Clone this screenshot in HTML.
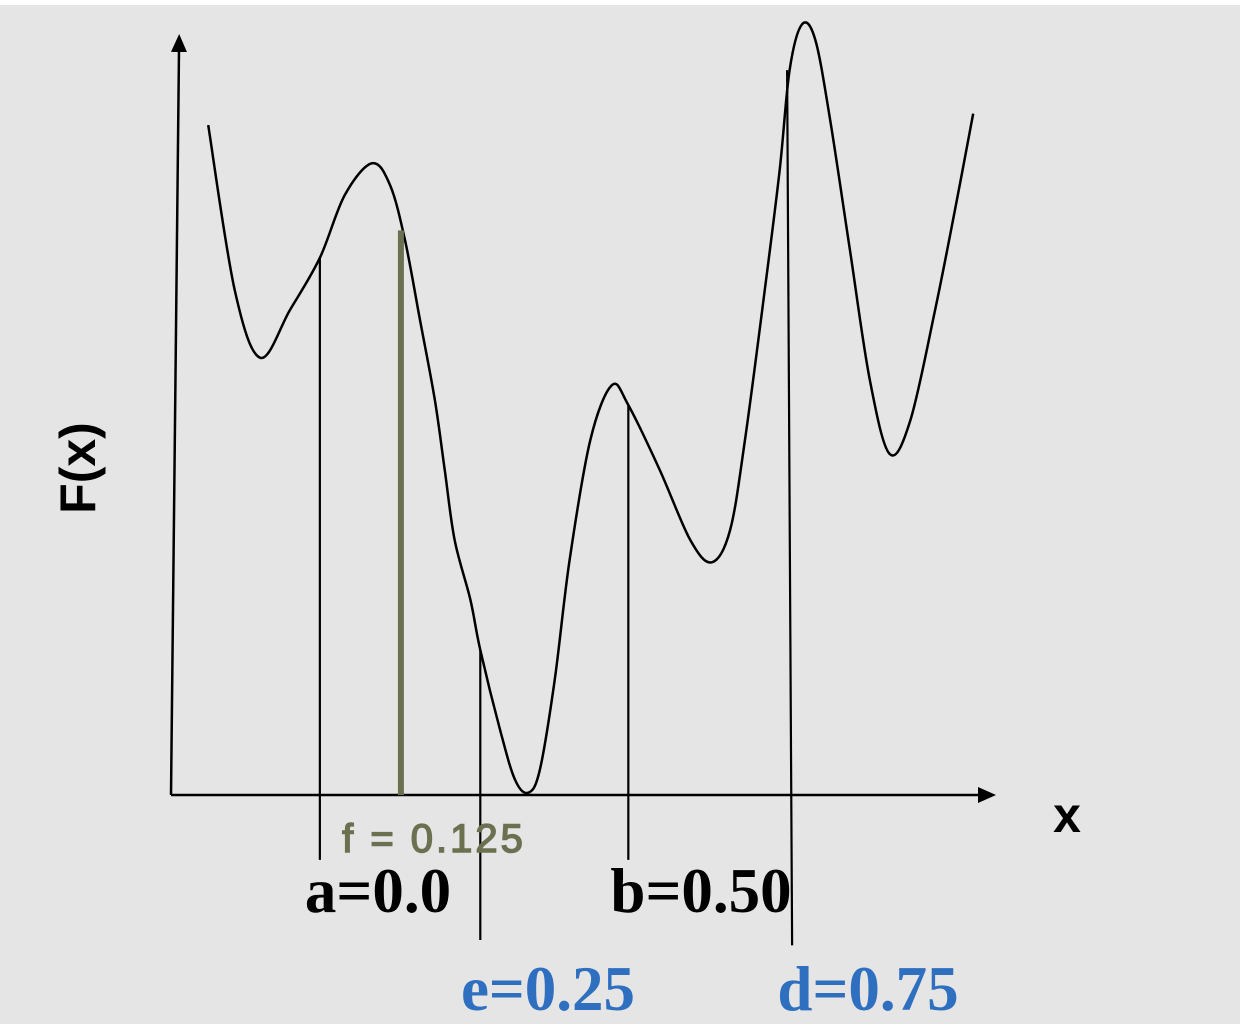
<!DOCTYPE html>
<html><head><meta charset="utf-8"><style>
html,body{margin:0;padding:0;background:#fff;}
svg{display:block;}
</style></head><body>
<svg id="chart" width="1244" height="1028" viewBox="0 0 1244 1028">
<rect x="0" y="5" width="1240" height="1019" fill="#e5e5e5"/>
<defs><marker id="arr" markerUnits="userSpaceOnUse" markerWidth="18" markerHeight="16" refX="2" refY="8" orient="auto"><path d="M0,0 L18,8 L0,16 z" fill="#000"/></marker></defs>
<g id="axes"></g>
<g id="marks"></g>
<text x="0" y="0" transform="translate(95,468) rotate(-90)" text-anchor="middle" font-family="Liberation Sans, sans-serif" font-weight="bold" font-size="50" fill="#000">F(x)</text>
<text x="1067" y="832" text-anchor="middle" font-family="Liberation Sans, sans-serif" font-weight="bold" font-size="50" fill="#000">x</text>
<g id="labels" font-family="Liberation Serif, serif" font-weight="bold" font-size="63"></g>
</svg>
<script>
const curveX=[0.045,0.077,0.108,0.144,0.180,0.210,0.243,0.265,0.283,0.301,0.319,0.331,0.343,0.362,0.374,0.398,0.416,0.432,0.446,0.464,0.482,0.507,0.533,0.553,0.591,0.628,0.654,0.676,0.694,0.718,0.736,0.748,0.763,0.779,0.797,0.821,0.845,0.869,0.894,0.924,0.948,0.970];
const curveY=[8.78,6.62,5.73,6.36,7.04,7.86,8.28,7.99,7.27,6.23,5.18,4.26,3.34,2.56,1.90,0.85,0.20,0.03,0.33,1.51,3.08,4.65,5.37,5.11,4.26,3.34,3.05,3.47,4.65,6.62,8.19,9.50,10.10,9.90,8.85,7.14,5.44,4.47,4.91,6.36,7.67,8.93];
const markerNames=['a','f','e','b','d'];
const markerLabels=['a=0.0','f = 0.125','e=0.25','b=0.50','d=0.75'];
const markerX=[0.180,0.278,0.374,0.553,0.745];
const markerTop=[7.04,7.4,1.90,5.11,9.50];
const markerBottom=[-0.85,0,-1.9,-0.85,-1.97];
const x=v=>171+v*827;
const y=v=>795-v*76.3;
const NS='http://www.w3.org/2000/svg';
function mk(tag,attrs,parent){const e=document.createElementNS(NS,tag);for(const k in attrs)e.setAttribute(k,attrs[k]);parent.appendChild(e);return e;}
const axes=document.getElementById('axes'),marks=document.getElementById('marks'),labels=document.getElementById('labels');
let ya=mk('line',{x1:171,y1:795,x2:179,y2:50,stroke:'#000','stroke-width':2.5,'marker-end':'url(#arr)'},axes);


let xa=mk('line',{x1:171,y1:795,x2:980,y2:795,stroke:'#000','stroke-width':2.5,'marker-end':'url(#arr)'},axes);


const P=curveX.map((v,i)=>[x(v),y(curveY[i])]);
let d='M'+P[0][0]+','+P[0][1];
for(let i=0;i<P.length-1;i++){const p0=P[Math.max(0,i-1)],p1=P[i],p2=P[i+1],p3=P[Math.min(P.length-1,i+2)];
d+=' C'+(p1[0]+(p2[0]-p0[0])/6)+','+(p1[1]+(p2[1]-p0[1])/6)+' '+(p2[0]-(p3[0]-p1[0])/6)+','+(p2[1]-(p3[1]-p1[1])/6)+' '+p2[0]+','+p2[1];}
let c=mk('path',{d:d,fill:'none',stroke:'#000','stroke-width':2.5},marks);


const labelPos=[[378,912,'#000'],[434,852,'#6b7150'],[548,1010,'#2f6fc0'],[701,912,'#000'],[868,1010,'#2f6fc0']];
markerNames.forEach((n,i)=>{
 const isF=n==='f';
 let l=mk('line',{x1:x(markerX[i]),y1:y(markerTop[i]),x2:x(markerX[i])+(n==='d'?5:0),y2:y(markerBottom[i]),stroke:isF?'#6b7150':'#000','stroke-width':isF?6:2.2},marks);
 
 
 const lp=labelPos[i];
 let t=mk('text',{x:lp[0],y:lp[1],'text-anchor':'middle',fill:lp[2]},labels);
 if(isF){t.setAttribute('font-family','Liberation Sans, sans-serif');t.setAttribute('font-weight','normal');t.setAttribute('font-size','40');t.setAttribute('letter-spacing','3');t.setAttribute('stroke','#6b7150');t.setAttribute('stroke-width','1.5');}
 t.textContent=markerLabels[i];
 
 
});
</script>
</body></html>
